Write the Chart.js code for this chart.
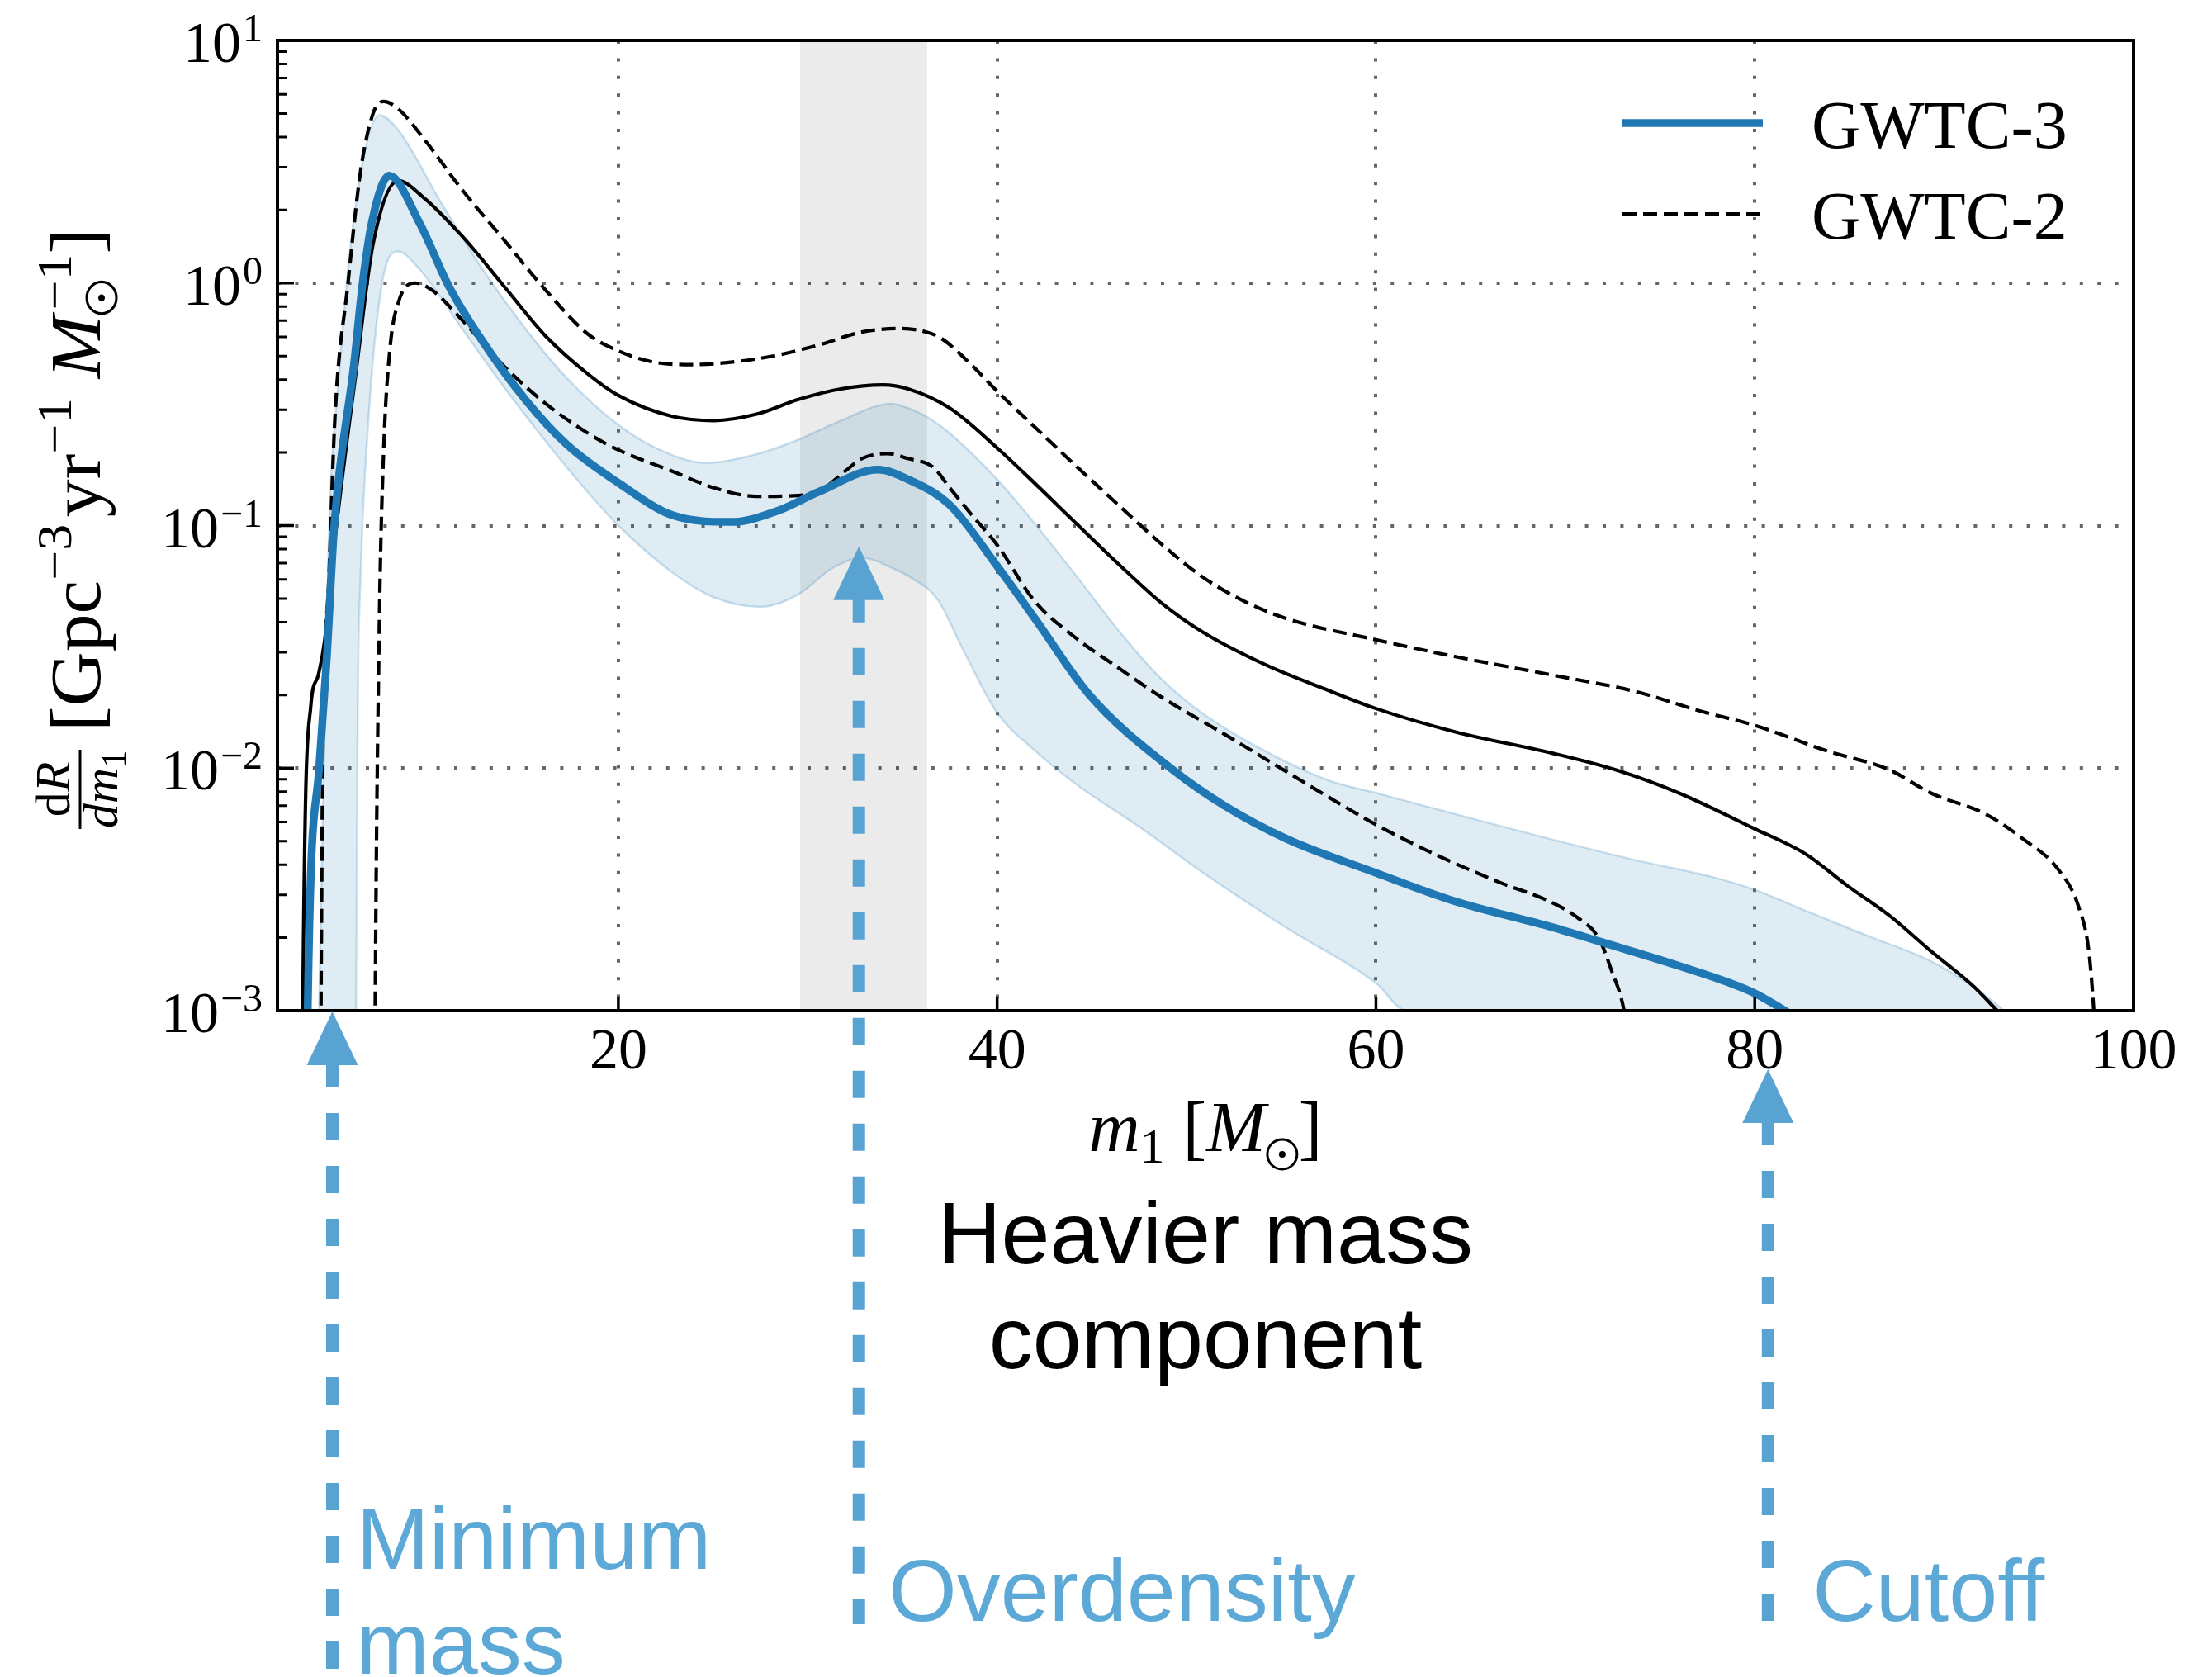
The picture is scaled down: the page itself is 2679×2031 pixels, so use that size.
<!DOCTYPE html>
<html>
<head>
<meta charset="utf-8">
<script src="https://cdn.jsdelivr.net/npm/chart.js@4.4.1/dist/chart.umd.min.js"></script>
<style>
    html, body { margin: 0; padding: 0; background: #fff; }
    #wrap { width: 2679px; height: 2031px; }
</style>
</head>
<body>
<div id="wrap"><canvas id="massChart" width="2679" height="2031"></canvas></div>
<script>
// primary mass m1 [Msun] and merger rate density dR/dm1 [Gpc^-3 yr^-1 Msun^-1]
const massTicks = [20, 40, 60, 80, 100];
const rateTicks = [1e-3, 1e-2, 1e-1, 1, 10];

// GWTC-3 median
const gwtc3MedianMass = [3.5, 3.6, 4.2, 4.6, 5.0, 6.05, 6.5, 7.0, 7.9, 9.5, 11.05, 12.8, 15.1, 17.3, 20, 22.9, 26, 28.4, 30.6, 33.7, 35.3, 37.5, 40, 42, 44.9, 49.3, 52, 55.3, 60, 64.2, 69.3, 71.8, 76, 78.7, 80, 81.6, 84];
const gwtc3MedianRate = [1e-4, 1e-3, 1e-2, 0.028, 0.1, 0.467, 1.0, 1.8, 2.77, 1.77, 0.97, 0.58, 0.33, 0.215, 0.15, 0.11, 0.1035, 0.115, 0.138, 0.17, 0.155, 0.1215, 0.068, 0.0413, 0.0199, 0.0098, 0.007, 0.0051, 0.0037, 0.00282, 0.00221, 0.00193, 0.00153, 0.0013, 0.00118, 0.001, 0.00075];

// GWTC-3 90% band, upper and lower edge
const gwtc3UpperMass = [3.9, 4.2, 4.45, 4.71, 5.27, 6.16, 7.38, 8.38, 10.6, 12.83, 15.06, 17.3, 20, 22.2, 24.6, 27.3, 29.5, 31.75, 34.4, 35.3, 36.6, 37.5, 40, 42, 44.2, 46.4, 48.6, 50.8, 54.2, 57.5, 60, 64.2, 69.3, 73.8, 77.8, 80, 82.7, 86, 89.3, 91.5, 93.1, 94.5];
const gwtc3UpperRate = [1e-5, 1e-3, 1e-2, 0.088, 0.437, 2.17, 4.92, 4.27, 2.17, 1.14, 0.653, 0.404, 0.26, 0.205, 0.1815, 0.197, 0.226, 0.271, 0.318, 0.305, 0.271, 0.24, 0.155, 0.1016, 0.0617, 0.037, 0.0236, 0.0169, 0.0117, 0.0089, 0.0079, 0.00646, 0.00508, 0.00416, 0.00355, 0.00315, 0.00258, 0.00203, 0.0016, 0.00126, 0.00101, 0.0008];
const gwtc3LowerMass = [3.9, 6.1, 6.15, 6.25, 6.38, 6.83, 7.5, 8.34, 9.5, 11.72, 13.95, 16.17, 18.4, 20, 22.85, 25.07, 27.5, 29.5, 31.3, 32.9, 34.6, 35.6, 36.85, 38.2, 40, 42, 44.2, 47.5, 50.9, 55.3, 60, 61.6, 63, 63.2, 95];
const gwtc3LowerRate = [1e-5, 1e-5, 1e-3, 0.0204, 0.0593, 0.293, 0.973, 1.35, 1.14, 0.653, 0.373, 0.222, 0.137, 0.1, 0.0641, 0.0505, 0.0462, 0.052, 0.0668, 0.0735, 0.066, 0.06, 0.0497, 0.0308, 0.0169, 0.0118, 0.00855, 0.00573, 0.00369, 0.00219, 0.0013, 0.001, 0.00079, 1e-5, 1e-5];

// GWTC-2 median and 90% bounds
const gwtc2MedianMass = [3.3, 3.34, 3.76, 4.16, 4.49, 4.71, 5.05, 6.16, 7.05, 8.38, 9.72, 11.72, 13.95, 16.17, 18.4, 20, 22.85, 25.07, 27.3, 29.5, 31.75, 33.97, 35.3, 37.5, 40, 42, 44.2, 46.4, 48.6, 50.8, 54.2, 57.5, 60, 64.2, 69.3, 72.65, 76, 80, 82.7, 84.9, 87.1, 89.3, 91.55, 92.8, 94];
const gwtc2MedianRate = [1e-4, 1e-3, 0.018, 0.0242, 0.0334, 0.0497, 0.09, 0.437, 1.45, 2.64, 2.25, 1.57, 0.973, 0.603, 0.421, 0.344, 0.282, 0.271, 0.288, 0.331, 0.366, 0.38, 0.366, 0.305, 0.209, 0.149, 0.1016, 0.0695, 0.0485, 0.0366, 0.0266, 0.0209, 0.0176, 0.0141, 0.01153, 0.00984, 0.00789, 0.00562, 0.00442, 0.00327, 0.00247, 0.00176, 0.00126, 0.001, 0.0008];
const gwtc2UpperMass = [4.25, 4.3, 4.4, 4.71, 5.05, 5.71, 6.38, 7.05, 7.6, 8.38, 9.72, 11.72, 13.95, 16.17, 18.4, 20, 21.74, 23.96, 26.19, 28.4, 30.64, 32.86, 34.86, 36.2, 37.07, 38.64, 40, 41.98, 44.2, 46.4, 48.6, 50.8, 53.1, 55.3, 60, 64.2, 69.3, 73.8, 77.1, 80, 83.8, 87.1, 89.3, 92.2, 94.2, 96.0, 97.1, 97.65, 97.9, 98.1];
const gwtc2UpperRate = [1e-4, 1e-3, 0.012, 0.059, 0.293, 0.973, 2.86, 5.0, 5.6, 5.22, 3.94, 2.44, 1.51, 0.933, 0.615, 0.525, 0.474, 0.461, 0.474, 0.504, 0.557, 0.628, 0.649, 0.63, 0.59, 0.46, 0.358, 0.255, 0.175, 0.1216, 0.0849, 0.0617, 0.0485, 0.0413, 0.0338, 0.0288, 0.0242, 0.0206, 0.0172, 0.015, 0.01178, 0.00984, 0.00789, 0.00646, 0.00508, 0.00384, 0.00268, 0.00173, 0.001, 0.0005];
const gwtc2LowerMass = [7.1, 7.16, 7.38, 7.6, 7.94, 8.38, 9.27, 10.16, 11.72, 13.95, 16.17, 18.4, 20, 22.85, 25.07, 27.3, 29.5, 30.86, 31.97, 32.86, 34.2, 35.29, 36.6, 37.5, 38.6, 40, 41.98, 44.2, 46.4, 48.6, 52, 55.3, 57.5, 60, 63.1, 66.45, 69.3, 70.64, 71.76, 72.43, 73.1, 73.5];
const gwtc2LowerRate = [1e-4, 1e-3, 0.0397, 0.197, 0.535, 0.83, 1.0, 0.935, 0.708, 0.455, 0.318, 0.24, 0.205, 0.1675, 0.143, 0.132, 0.133, 0.143, 0.1675, 0.189, 0.198, 0.189, 0.1746, 0.143, 0.112, 0.0832, 0.0488, 0.0342, 0.0259, 0.0198, 0.0138, 0.00964, 0.00759, 0.00585, 0.00442, 0.0034, 0.00279, 0.00242, 0.00199, 0.00147, 0.001, 0.0006];

// shaded overdensity window and the features pointed at below the axis
const overdensityRange = [29.6, 36.3];
const featureMasses = [4.9, 32.7, 80.7];
const featureLabels = [["Minimum", "mass"], ["Overdensity"], ["Cutoff"]];

const SERIF = "'Liberation Serif', 'Times New Roman', serif";
const SANS = "'Liberation Sans', Arial, sans-serif";
const ACCENT = "#58a3d2";

const toPoints = (xs, ys) => xs.map((x, i) => ({ x: x, y: ys[i] }));

// draws text pieces one after another on a baseline, returns total width
function drawRuns(ctx, runs, x, y, draw) {
    let cx = x;
    for (const r of runs) {
        if (r.gap) {
            cx += r.gap;
            continue;
        }
        if (r.sun) {
            if (draw) {
                ctx.save();
                ctx.lineWidth = 3;
                ctx.beginPath();
                ctx.arc(cx + r.sun + 2, y + r.dy, r.sun, 0, Math.PI * 2);
                ctx.stroke();
                ctx.beginPath();
                ctx.arc(cx + r.sun + 2, y + r.dy, 4, 0, Math.PI * 2);
                ctx.fill();
                ctx.restore();
            }
            if (!r.stay) cx += 2 * r.sun + 4;
            continue;
        }
        ctx.font = r.font;
        const dx = r.dx || 0;
        if (draw) ctx.fillText(r.t, cx + dx, y + (r.dy || 0));
        cx += dx + ctx.measureText(r.t).width;
    }
    return cx - x;
}

const F = 86, S = 60;
const yLabelRuns = [
    { t: "[", font: `${F}px ${SERIF}` },
    { t: "Gpc", font: `${F}px ${SERIF}` },
    { t: "\u22123", font: `${S}px ${SERIF}`, dy: -35 },
    { gap: 8 },
    { t: "yr", font: `${F}px ${SERIF}` },
    { t: "\u22121", font: `${S}px ${SERIF}`, dy: -35 },
    { gap: 22 },
    { t: "M", font: `italic ${F}px ${SERIF}` },
    { sun: 18, dy: 2, stay: true },
    { t: "\u22121", font: `${S}px ${SERIF}`, dy: -35, dx: 6 },
    { t: "]", font: `${F}px ${SERIF}` },
];
const xLabelRuns = [
    { t: "m", font: `italic ${F}px ${SERIF}` },
    { t: "1", font: `${S}px ${SERIF}`, dy: 14 },
    { gap: 22 },
    { t: "[", font: `${F}px ${SERIF}` },
    { t: "M", font: `italic ${F}px ${SERIF}` },
    { sun: 18, dy: 4 },
    { t: "]", font: `${F}px ${SERIF}` },
];

// grey window behind the curves
const overdensityShade = {
    id: "overdensityShade",
    beforeDatasetsDraw(chart) {
        const { ctx, chartArea: a, scales } = chart;
        const x1 = scales.x.getPixelForValue(overdensityRange[0]);
        const x2 = scales.x.getPixelForValue(overdensityRange[1]);
        ctx.save();
        ctx.fillStyle = "rgba(0, 0, 0, 0.08)";
        ctx.fillRect(x1, a.top, x2 - x1, a.bottom - a.top);
        ctx.restore();
    },
};

// frame, inward ticks, math-style labels, legend and the annotations underneath
const axesDecor = {
    id: "axesDecor",
    afterDraw(chart) {
        const { ctx, chartArea: a, scales } = chart;
        const xs = scales.x, ys = scales.y;
        ctx.save();
        ctx.strokeStyle = "#000";
        ctx.fillStyle = "#000";

        // ticks
        ctx.lineWidth = 3.5;
        ctx.beginPath();
        massTicks.forEach((v) => {
            const px = xs.getPixelForValue(v);
            ctx.moveTo(px, a.bottom);
            ctx.lineTo(px, a.bottom - 17);
        });
        rateTicks.forEach((v) => {
            const py = ys.getPixelForValue(v);
            ctx.moveTo(a.left, py);
            ctx.lineTo(a.left + 20, py);
        });
        ctx.stroke();
        ctx.lineWidth = 3;
        ctx.beginPath();
        for (let e = -3; e < 1; e++) {
            for (let k = 2; k < 10; k++) {
                const py = ys.getPixelForValue(k * Math.pow(10, e));
                ctx.moveTo(a.left, py);
                ctx.lineTo(a.left + 11, py);
            }
        }
        ctx.stroke();

        // frame
        ctx.lineWidth = 4;
        ctx.strokeRect(a.left, a.top, a.right - a.left, a.bottom - a.top);

        // tick labels
        ctx.textBaseline = "alphabetic";
        ctx.textAlign = "center";
        ctx.font = `70px ${SERIF}`;
        massTicks.forEach((v) => {
            ctx.fillText(String(v), xs.getPixelForValue(v), a.bottom + 70);
        });
        ctx.textAlign = "right";
        rateTicks.forEach((v) => {
            const py = ys.getPixelForValue(v);
            const exp = Math.round(Math.log10(v));
            const expText = exp < 0 ? "\u2212" + (-exp) : String(exp);
            ctx.font = `48px ${SERIF}`;
            ctx.fillText(expText, a.left - 18, py + 1);
            const ew = ctx.measureText(expText).width;
            ctx.font = `70px ${SERIF}`;
            ctx.fillText("10", a.left - 20 - ew, py + 26);
        });

        // x axis title
        ctx.textAlign = "left";
        const xw = drawRuns(ctx, xLabelRuns, 0, 0, false);
        drawRuns(ctx, xLabelRuns, (a.left + a.right) / 2 - xw / 2, a.bottom + 170, true);

        // y axis title, rotated
        ctx.save();
        ctx.rotate(-Math.PI / 2);
        const fracU = -1004, fracLen = 96;
        ctx.lineWidth = 3;
        ctx.beginPath();
        ctx.moveTo(fracU, 97);
        ctx.lineTo(fracU + fracLen, 97);
        ctx.stroke();
        const num = [
            { t: "d", font: `${S}px ${SERIF}` },
            { t: "R", font: `italic ${S}px ${SERIF}` },
        ];
        const den = [
            { t: "d", font: `italic ${S}px ${SERIF}` },
            { t: "m", font: `italic ${S}px ${SERIF}` },
            { t: "1", font: `42px ${SERIF}`, dy: 10 },
        ];
        const nw = drawRuns(ctx, num, 0, 0, false);
        drawRuns(ctx, num, fracU + fracLen / 2 - nw / 2, 84, true);
        const dw = drawRuns(ctx, den, 0, 0, false);
        drawRuns(ctx, den, fracU + fracLen / 2 - dw / 2, 142, true);
        const yw = drawRuns(ctx, yLabelRuns, 0, 0, false);
        ctx.translate(-886, 121);
        ctx.scale(609 / yw, 1);
        drawRuns(ctx, yLabelRuns, 0, 0, true);
        ctx.restore();

        // legend
        const legendRows = [
            { ds: chart.data.datasets[0], y: a.top + 100 },
            { ds: chart.data.datasets[2], y: a.top + 210 },
        ];
        legendRows.forEach((row) => {
            ctx.save();
            ctx.strokeStyle = row.ds.borderColor;
            ctx.lineWidth = row.ds.borderWidth;
            ctx.setLineDash(row.ds.borderDash || []);
            ctx.beginPath();
            ctx.moveTo(a.right - 619, row.y);
            ctx.lineTo(a.right - 449, row.y);
            ctx.stroke();
            ctx.restore();
            ctx.font = `82px ${SERIF}`;
            ctx.textAlign = "left";
            ctx.fillText(row.ds.label, a.right - 390, row.y + 30);
        });

        // pointers to the features
        const tips = [a.bottom + 1, ys.getPixelForValue(0.082), a.bottom + 71];
        const ends = [2040, a.bottom + 743, a.bottom + 743];
        featureMasses.forEach((m, i) => {
            const px = xs.getPixelForValue(m);
            const tip = tips[i], base = tip + 65;
            ctx.fillStyle = ACCENT;
            ctx.beginPath();
            ctx.moveTo(px, tip);
            ctx.lineTo(px - 31, base);
            ctx.lineTo(px + 31, base);
            ctx.closePath();
            ctx.fill();
            ctx.strokeStyle = ACCENT;
            ctx.lineWidth = 15;
            ctx.setLineDash([33, 31]);
            ctx.beginPath();
            ctx.moveTo(px, base - 6);
            ctx.lineTo(px, ends[i]);
            ctx.stroke();
            ctx.setLineDash([]);
        });

        ctx.font = `106px ${SANS}`;
        ctx.textAlign = "left";
        ctx.fillStyle = "#5ca8d6";
        const labelPos = [
            { x: xs.getPixelForValue(featureMasses[0]) + 29, y: 1900 },
            { x: xs.getPixelForValue(featureMasses[1]) + 36, y: 1963 },
            { x: xs.getPixelForValue(featureMasses[2]) + 54, y: 1963 },
        ];
        featureLabels.forEach((lines, i) => {
            lines.forEach((line, j) => {
                ctx.fillText(line, labelPos[i].x, labelPos[i].y + j * 127);
            });
        });

        ctx.fillStyle = "#000";
        ctx.textAlign = "center";
        const cx = (a.left + a.right) / 2;
        ctx.fillText("Heavier mass", cx, 1530);
        ctx.fillText("component", cx, 1657);
        ctx.restore();
    },
};

const bandEdge = "rgba(31, 119, 180, 0.22)";

new Chart(document.getElementById("massChart"), {
    type: "line",
    data: {
        datasets: [
            {
                label: "GWTC-3",
                data: toPoints(gwtc3MedianMass, gwtc3MedianRate),
                borderColor: "#1f77b4",
                borderWidth: 9.5,
                fill: false,
            },
            {
                label: "GWTC-2 median",
                data: toPoints(gwtc2MedianMass, gwtc2MedianRate),
                borderColor: "#000",
                borderWidth: 4.2,
                fill: false,
            },
            {
                label: "GWTC-2",
                data: toPoints(gwtc2UpperMass, gwtc2UpperRate),
                borderColor: "#000",
                borderWidth: 4.2,
                borderDash: [17, 8],
                fill: false,
            },
            {
                label: "GWTC-2 lower",
                data: toPoints(gwtc2LowerMass, gwtc2LowerRate),
                borderColor: "#000",
                borderWidth: 4.2,
                borderDash: [17, 8],
                fill: false,
            },
            {
                label: "GWTC-3 upper",
                data: toPoints(gwtc3UpperMass, gwtc3UpperRate),
                borderColor: bandEdge,
                borderWidth: 2.5,
                backgroundColor: "rgba(31, 119, 180, 0.14)",
                fill: "+1",
            },
            {
                label: "GWTC-3 lower",
                data: toPoints(gwtc3LowerMass, gwtc3LowerRate),
                borderColor: bandEdge,
                borderWidth: 2.5,
                fill: false,
            },
        ],
    },
    options: {
        responsive: false,
        animation: false,
        devicePixelRatio: 1,
        events: [],
        layout: { padding: { top: 49, right: 95, left: 0, bottom: 0 } },
        elements: {
            point: { radius: 0 },
            line: { cubicInterpolationMode: "monotone", borderCapStyle: "butt", borderJoinStyle: "round" },
        },
        plugins: {
            legend: { display: false },
            tooltip: { enabled: false },
        },
        scales: {
            x: {
                type: "linear",
                min: 2,
                max: 100,
                afterBuildTicks: (s) => { s.ticks = massTicks.map((v) => ({ value: v })); },
                afterFit: (s) => { s.height = 807; },
                ticks: { display: false },
                grid: { color: "#666", lineWidth: 4, drawTicks: false },
                border: { display: false, dash: [4, 17.4] },
            },
            y: {
                type: "logarithmic",
                min: 1e-3,
                max: 10,
                afterBuildTicks: (s) => { s.ticks = rateTicks.map((v) => ({ value: v })); },
                afterFit: (s) => { s.width = 336; },
                ticks: { display: false },
                grid: { color: "#666", lineWidth: 4, drawTicks: false },
                border: { display: false, dash: [4, 17.4] },
            },
        },
    },
    plugins: [overdensityShade, axesDecor],
});
</script>
</body>
</html>
